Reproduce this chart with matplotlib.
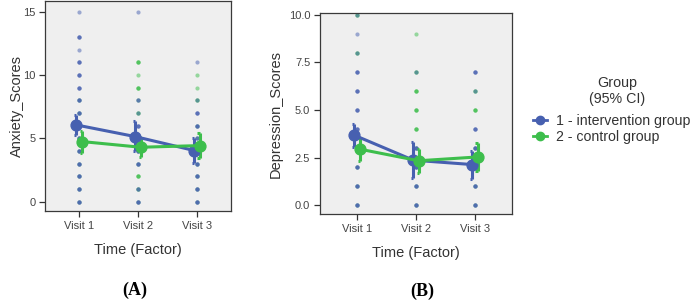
import matplotlib
matplotlib.use("Agg")
import matplotlib.pyplot as plt
from matplotlib.lines import Line2D
import numpy as np

plt.rcParams['font.family'] = ['Liberation Sans', 'DejaVu Sans']

visits = ["Visit 1", "Visit 2", "Visit 3"]
groups = ["1 - intervention group", "2 - control group"]

# Panel A: raw anxiety scores (repeated values = several participants)
anx_int = [
    [0,0,0,1,1,1,2,2,2,3,3,3,4,4,4,5,5,5,6,6,6,7,7,7,8,8,8,9,9,9,10,10,10,11,11,11,12,13,13,13,15],
    [0,0,0,1,1,3,3,3,4,4,4,5,5,5,6,6,6,7,8,8,15],
    [0,0,0,1,1,1,2,2,2,3,3,3,4,4,5,5,6,6,6,7,7,7,8,11],
]
anx_ctl = [
    [0,1,2,3,4,5,6,7,8],
    [0,1,1,2,2,2,3,4,5,7,7,8,9,9,9,10,11,11,11],
    [0,1,2,3,4,5,6,8,8,9,10],
]
anx_int_mean = [6.05, 5.13, 4.03]
anx_int_lo = [5.27, 4.00, 3.08]
anx_int_hi = [6.85, 6.39, 5.00]
anx_ctl_mean = [4.74, 4.29, 4.42]
anx_ctl_lo = [3.87, 3.50, 3.42]
anx_ctl_hi = [5.58, 5.08, 5.45]

# Panel B: raw depression scores
dep_int = [
    [0,0,0,1,1,1,2,2,2,3,3,4,4,4,5,5,5,6,6,6,7,7,7,8,9,10],
    [0,0,0,1,1,1,2,2,2,3,3,3,7],
    [0,0,0,1,1,1,2,2,3,3,3,4,4,4,6,7,7,7],
]
dep_ctl = [
    [0,1,2,3,8,8,10,10],
    [0,1,2,3,4,4,4,5,5,5,6,6,6,7,7,9],
    [0,1,2,3,5,5,5,6,6],
]
dep_int_mean = [3.67, 2.36, 2.13]
dep_int_lo = [3.06, 1.40, 1.36]
dep_int_hi = [4.25, 3.32, 2.85]
dep_ctl_mean = [2.94, 2.33, 2.53]
dep_ctl_lo = [2.33, 1.66, 1.78]
dep_ctl_hi = [3.55, 2.97, 3.27]

BLUE = "#4760B0"
GREEN = "#3DBE4C"
TXT = "#333333"

fig = plt.figure(figsize=(7.0, 3.01), dpi=100)

def panel(rect, ylim, xlim, ticks, ticklabels, ylabel, ylabelpad, raw_int, raw_ctl,
          im, ilo, ihi, cm, clo, chi, dodge):
    ax = fig.add_axes(rect)
    ax.set_facecolor("#EFEFEF")
    x = np.arange(len(visits))
    # raw points: control first, intervention on top
    for raw, col in ((raw_ctl, GREEN), (raw_int, BLUE)):
        for i, vals in enumerate(raw):
            ax.scatter(np.full(len(vals), x[i]), vals, s=9, color=col,
                       alpha=0.5, linewidths=0, zorder=2)
    for mean, lo, hi, col, off in ((im, ilo, ihi, BLUE, -dodge),
                                   (cm, clo, chi, GREEN, dodge)):
        xx = x + off
        mean = np.array(mean); lo = np.array(lo); hi = np.array(hi)
        ax.errorbar(xx, mean, yerr=[mean - lo, hi - mean], color=col,
                    lw=2.2, capsize=0, fmt='none', zorder=3)
        for xi, l, h in zip(xx, lo, hi):
            for yv in (l, h):
                ax.plot([xi - 0.035, xi], [yv, yv], color=col, lw=2.2,
                        zorder=3, solid_capstyle='butt')
        ax.plot(xx, mean, color=col, lw=2.2, marker='o', markersize=7.8,
                zorder=4)
    ax.set_xlim(*xlim)
    ax.set_ylim(*ylim)
    ax.set_xticks(x)
    ax.set_xticklabels(visits)
    ax.set_yticks(ticks)
    ax.set_yticklabels(ticklabels)
    ax.tick_params(axis='both', labelsize=8, colors=TXT, length=4,
                   width=0.9, labelcolor="#444444", pad=3)
    for sp in ax.spines.values():
        sp.set_color("#3A3A3A")
        sp.set_linewidth(0.9)
    ax.set_xlabel("Time (Factor)", fontsize=10.5, color=TXT, labelpad=8.5)
    ax.set_ylabel(ylabel, fontsize=10.5, color=TXT, labelpad=ylabelpad)
    return ax

axA = panel([45/700, 1 - 211/301, 186/700, 210/301], (-0.75, 15.85),
            (-0.58, 2.58), [0, 5, 10, 15], ["0", "5", "10", "15"],
            "Anxiety_Scores", -1.0, anx_int, anx_ctl,
            anx_int_mean, anx_int_lo, anx_int_hi,
            anx_ctl_mean, anx_ctl_lo, anx_ctl_hi, 0.045)
axB = panel([320/700, 1 - 214/301, 192/700, 201/301], (-0.47, 10.1),
            (-0.63, 2.63), [0, 2.5, 5, 7.5, 10],
            ["0.0", "2.5", "5.0", "7.5", "10.0"],
            "Depression_Scores", 4.0, dep_int, dep_ctl,
            dep_int_mean, dep_int_lo, dep_int_hi,
            dep_ctl_mean, dep_ctl_lo, dep_ctl_hi, 0.045)

# legend title drawn separately to reproduce its spacing
fig.text(617/700, 1 - 83/301, "Group", fontsize=10.3, color=TXT,
         ha='center', va='center')
fig.text(617/700, 1 - 98.5/301, "(95% CI)", fontsize=10.3, color=TXT,
         ha='center', va='center')
handles = [Line2D([0], [0], color=BLUE, marker='o', markersize=6, lw=2),
           Line2D([0], [0], color=GREEN, marker='o', markersize=6, lw=2)]
leg = fig.legend(handles, groups,
                 loc='center left', bbox_to_anchor=(523/700, 1 - 129/301),
                 frameon=False, fontsize=10.2,
                 handlelength=1.0, handletextpad=0.6, labelspacing=0.15,
                 borderpad=0.2)
for t in leg.get_texts():
    t.set_color(TXT)

fig.text(135/700, 1 - 290/301, "(A)", fontsize=13, fontweight='bold',
         family='Liberation Serif', ha='center', va='center')
fig.text(422/700, 1 - 291/301, "(B)", fontsize=13, fontweight='bold',
         family='Liberation Serif', ha='center', va='center')

fig.savefig("out.png", dpi=100)
